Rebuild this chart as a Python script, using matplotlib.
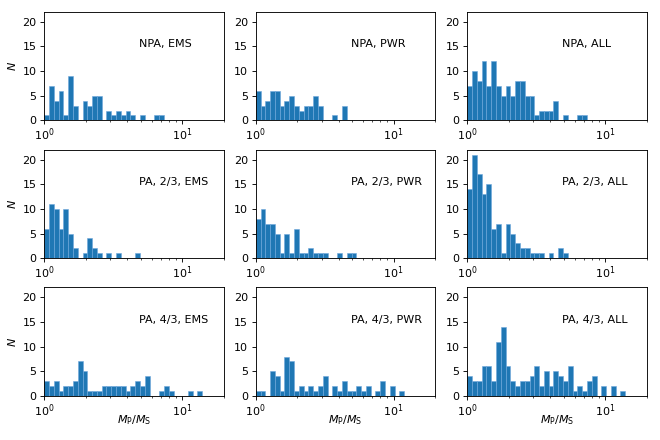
import numpy as np
import matplotlib
matplotlib.use("Agg")
import matplotlib.pyplot as plt

# log-spaced bins, counts read per bin
bin_width_dex = 0.0347
n_bins = 37
edges = 10 ** (bin_width_dex * np.arange(n_bins + 1))

npa_ems = [1, 7, 4, 6, 1, 9, 3, 0, 4, 3, 5, 5, 0, 2, 1, 2, 1, 2, 1, 0, 1, 0, 0, 1, 1]
npa_pwr = [6, 3, 4, 6, 6, 3, 4, 5, 3, 2, 3, 3, 5, 3, 0, 0, 1, 0, 3]
npa_all = [7, 10, 8, 12, 7, 12, 7, 5, 7, 5, 8, 8, 5, 5, 1, 2, 2, 2, 4, 0, 1, 0, 0, 1, 1]

pa23_ems = [6, 11, 10, 6, 10, 5, 2, 0, 1, 4, 2, 1, 0, 1, 0, 1, 0, 0, 0, 1]
pa23_pwr = [8, 10, 7, 7, 5, 1, 5, 1, 6, 1, 1, 2, 1, 1, 1, 0, 0, 1, 0, 1, 1]
pa23_all = [14, 21, 17, 13, 15, 6, 7, 1, 7, 5, 3, 2, 2, 1, 1, 1, 0, 1, 0, 2, 1]

pa43_ems = [3, 2, 3, 1, 2, 2, 3, 7, 5, 1, 1, 1, 2, 2, 2, 2, 2, 1, 2, 3, 2, 4,
            0, 0, 1, 2, 1, 0, 0, 0, 1, 0, 1]
pa43_pwr = [1, 1, 0, 5, 4, 1, 8, 7, 1, 2, 1, 2, 1, 2, 4, 0, 2, 1, 3, 1, 1, 2,
            1, 2, 0, 1, 3, 0, 2, 0, 1]
pa43_all = [4, 3, 3, 6, 6, 3, 11, 14, 6, 3, 2, 3, 3, 4, 6, 2, 5, 2, 5, 4, 3, 6,
            1, 2, 1, 3, 4, 0, 2, 0, 2, 0, 1]

panels = [
    [(npa_ems, "NPA, EMS"), (npa_pwr, "NPA, PWR"), (npa_all, "NPA, ALL")],
    [(pa23_ems, "PA, 2/3, EMS"), (pa23_pwr, "PA, 2/3, PWR"), (pa23_all, "PA, 2/3, ALL")],
    [(pa43_ems, "PA, 4/3, EMS"), (pa43_pwr, "PA, 4/3, PWR"), (pa43_all, "PA, 4/3, ALL")],
]

plt.rcParams["font.size"] = 10

fig, axes = plt.subplots(3, 3, figsize=(8.25, 5.5))
fig.subplots_adjust(left=0.067, right=0.98, top=0.973, bottom=0.1,
                    wspace=0.178, hspace=0.27)

for i, row in enumerate(panels):
    for j, (counts, label) in enumerate(row):
        ax = axes[i, j]
        counts = np.array(counts, dtype=float)
        lo = edges[:len(counts)]
        hi = edges[1:len(counts) + 1]
        centers = np.sqrt(lo * hi)
        ax.hist(centers, bins=edges[:len(counts) + 1], weights=counts,
                color="#1f77b4", edgecolor="#6fa8dc", linewidth=0.5)
        ax.set_xscale("log")
        ax.set_xlim(1, 20)
        ax.set_ylim(0, 22)
        ax.set_yticks([0, 5, 10, 15, 20])
        ax.tick_params(axis="x", pad=2)
        ax.text(0.53, 0.7, label, transform=ax.transAxes,
                ha="left", va="center")
        if j == 0:
            ax.set_ylabel("$N$")
        if i == 2:
            ax.set_xlabel(r"$M_{\rm P}/M_{\rm S}$", labelpad=-5)

plt.savefig("out.png", dpi=80)
